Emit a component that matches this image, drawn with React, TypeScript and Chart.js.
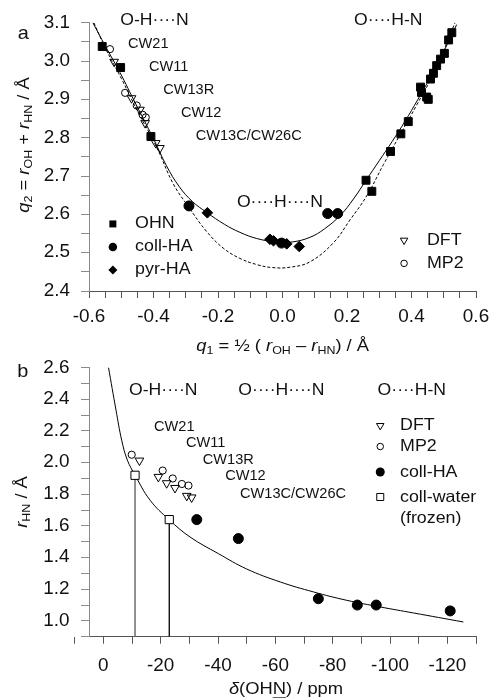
import React, { useEffect, useRef } from 'react';
import { Chart, registerables } from 'chart.js';

Chart.register(...registerables);

const FAMILY = '"Liberation Sans", Arial, Helvetica, sans-serif';
const SX = 1.08;
const INK = '#111';

// ---------------- Panel a data ----------------
const aXMin = -0.6, aXMax = 0.6, aXStep = 0.05;
const aYMin = 2.4, aYMax = 3.1, aYStep = 0.05;
const aXTickVals = [-0.6, -0.4, -0.2, 0, 0.2, 0.4, 0.6];
const aXTickLabels = ['-0.6', '-0.4', '-0.2', '0.0', '0.2', '0.4', '0.6'];
const aYTickVals = [2.4, 2.5, 2.6, 2.7, 2.8, 2.9, 3.0, 3.1];
const aYTickLabels = ['2.4', '2.5', '2.6', '2.7', '2.8', '2.9', '3.0', '3.1'];

const ohnQ1 = [-0.559, -0.502, -0.408, 0.259, 0.277, 0.335, 0.367, 0.390, 0.428, 0.431, 0.447, 0.452, 0.459, 0.468, 0.478, 0.490, 0.502, 0.515, 0.525];
const ohnQ2 = [3.038, 2.983, 2.803, 2.689, 2.660, 2.764, 2.810, 2.842, 2.932, 2.918, 2.906, 2.900, 2.953, 2.968, 2.988, 3.005, 3.020, 3.055, 3.074];
const collAQ1 = [-0.290, 0.140, 0.171, -0.003];
const collAQ2 = [2.622, 2.602, 2.602, 2.525];
const pyrQ1 = [-0.233, -0.039, -0.028, 0.013, 0.052];
const pyrQ2 = [2.604, 2.535, 2.531, 2.523, 2.516];
const dftAQ1 = [-0.522, -0.468, -0.442, -0.426, -0.393, -0.380];
const dftAQ2 = [2.998, 2.903, 2.873, 2.838, 2.786, 2.773];
const mp2AQ1 = [-0.535, -0.488, -0.452, -0.434, -0.424];
const mp2AQ2 = [3.031, 2.917, 2.884, 2.860, 2.853];

const fitQ1 = [-0.588, -0.55, -0.504, -0.455, -0.401, -0.36, -0.32, -0.28, -0.235, -0.18, -0.132, -0.08, -0.02, 0.03, 0.085, 0.13, 0.18, 0.22, 0.26, 0.30, 0.34, 0.38, 0.42, 0.46, 0.50, 0.54];
const fitQ2 = [3.10, 3.04, 2.97, 2.888, 2.799, 2.727, 2.672, 2.634, 2.605, 2.574, 2.553, 2.537, 2.528, 2.528, 2.540, 2.562, 2.598, 2.640, 2.690, 2.740, 2.790, 2.843, 2.900, 2.960, 3.025, 3.095];
const eqQ1 = [-0.585, -0.55, -0.50, -0.45, -0.39, -0.339, -0.29, -0.235, -0.184, -0.132, -0.08, -0.03, 0.023, 0.085, 0.158, 0.209, 0.261, 0.313, 0.364, 0.416, 0.47, 0.535];
const eqQ2 = [3.10, 3.035, 2.955, 2.87, 2.775, 2.68, 2.618, 2.555, 2.512, 2.485, 2.469, 2.461, 2.462, 2.476, 2.526, 2.585, 2.648, 2.73, 2.807, 2.885, 2.97, 3.10];

// ---------------- Panel b data ----------------
const bXMin = -130, bXMax = 5, bXStep = 10;
const bYMin = 0.9, bYMax = 2.6, bYStep = 0.1;
const bXTickVals = [0, -20, -40, -60, -80, -100, -120];
const bXTickLabels = ['0', '-20', '-40', '-60', '-80', '-100', '-120'];
const bYTickVals = [1.0, 1.2, 1.4, 1.6, 1.8, 2.0, 2.2, 2.4, 2.6];
const bYTickLabels = ['1.0', '1.2', '1.4', '1.6', '1.8', '2.0', '2.2', '2.4', '2.6'];

const dftBD = [-12.6, -19.2, -22.1, -25.0, -29.1, -30.8];
const dftBR = [2.013, 1.91, 1.87, 1.84, 1.79, 1.78];
const mp2BD = [-9.9, -20.7, -24.2, -27.4, -29.7];
const mp2BR = [2.05, 1.95, 1.90, 1.865, 1.855];
const collBD = [-32.6, -47.1, -75.0, -88.6, -95.2, -121.0];
const collBR = [1.64, 1.52, 1.14, 1.10, 1.10, 1.063];
const waterD = [-11.06, -23.0];
const waterR = [1.92, 1.64];
const curveD = [-1.75, -4.42, -6.40, -8.38, -11.06, -16.29, -22.92, -30.25, -40.14, -50.0, -61.7, -73.3, -84.9, -96.6, -108.2, -125.6];
const curveR = [2.607, 2.332, 2.142, 2.016, 1.921, 1.763, 1.640, 1.530, 1.425, 1.328, 1.246, 1.183, 1.130, 1.088, 1.05, 0.993];

// ---------------- helpers ----------------
type Seg = { t: string; i?: boolean; sub?: boolean; u?: boolean };
type Txt = { t: string; x: number; y: number; size: number; align: CanvasTextAlign; sx?: number };
type LegRow = { shape: string; filled: boolean; size: number; text: string; y: number };
type Spec = {
  texts: Txt[];
  legends: { mx: number; tx: number; rows: LegRow[] }[];
  xTicks: number[]; xLabels: string[]; yTicks: number[]; yLabels: string[];
  xLabelDy: number; yLabelDx: number;
  xTitle: Seg[]; xTitleDx: number; xTitleDy: number;
  yTitle: Seg[]; yTitleDx: number; yTitleDy: number;
};

const fnt = (size: number, italic = false) => `${italic ? 'italic ' : ''}${size}px ${FAMILY}`;

function range(min: number, max: number, step: number) {
  const out: number[] = [];
  const n = Math.round((max - min) / step);
  for (let k = 0; k <= n; k++) out.push(+(min + k * step).toFixed(6));
  return out;
}

const pts = (xs: number[], ys: number[]) => xs.map((x, i) => ({ x, y: ys[i] }));

function drawText(ctx: CanvasRenderingContext2D, t: string, x: number, y: number, size: number, align: CanvasTextAlign, sx = SX) {
  ctx.save();
  ctx.translate(x, y);
  ctx.scale(sx, 1);
  ctx.font = fnt(size);
  ctx.fillStyle = INK;
  ctx.textAlign = align;
  ctx.textBaseline = 'middle';
  ctx.fillText(t, 0, 0);
  ctx.restore();
}

function drawRich(ctx: CanvasRenderingContext2D, segs: Seg[], x: number, y: number, size: number, rot: number) {
  ctx.save();
  ctx.translate(x, y);
  if (rot) ctx.rotate(rot);
  ctx.scale(SX, 1);
  ctx.fillStyle = INK;
  ctx.textBaseline = 'middle';
  ctx.textAlign = 'left';
  const sub = size * 0.68;
  const widths = segs.map((s) => {
    ctx.font = fnt(s.sub ? sub : size, !!s.i);
    return ctx.measureText(s.t).width;
  });
  const total = widths.reduce((a, b) => a + b, 0);
  let cx = -total / 2;
  segs.forEach((s, k) => {
    ctx.font = fnt(s.sub ? sub : size, !!s.i);
    ctx.fillText(s.t, cx, s.sub ? size * 0.3 : 0);
    if (s.u) ctx.fillRect(cx, size * 0.45, widths[k], 1.2);
    cx += widths[k];
  });
  ctx.restore();
}

function drawShape(ctx: CanvasRenderingContext2D, shape: string, x: number, y: number, s: number, filled: boolean) {
  ctx.save();
  ctx.beginPath();
  const h = s / 2;
  if (shape === 'square') ctx.rect(x - h, y - h, s, s);
  else if (shape === 'circle') ctx.arc(x, y, h, 0, Math.PI * 2);
  else if (shape === 'diamond') {
    ctx.moveTo(x, y - h); ctx.lineTo(x + h, y); ctx.lineTo(x, y + h); ctx.lineTo(x - h, y); ctx.closePath();
  } else if (shape === 'triDown') {
    ctx.moveTo(x - h, y - s * 0.3); ctx.lineTo(x + h, y - s * 0.3); ctx.lineTo(x, y + s * 0.55); ctx.closePath();
  }
  if (filled) {
    ctx.fillStyle = '#000';
    ctx.fill();
  } else {
    ctx.fillStyle = '#fff';
    ctx.fill();
    ctx.strokeStyle = '#000';
    ctx.lineWidth = 1;
    ctx.stroke();
  }
  ctx.restore();
}

function makePlugin(spec: Spec) {
  return {
    id: 'decor',
    afterDraw(chart: any) {
      const ctx: CanvasRenderingContext2D = chart.ctx;
      const xs = chart.scales.x;
      const ys = chart.scales.y;
      const area = chart.chartArea;
      spec.xTicks.forEach((v, k) => drawText(ctx, spec.xLabels[k], xs.getPixelForValue(v), area.bottom + spec.xLabelDy, 17.5, 'center'));
      spec.yTicks.forEach((v, k) => drawText(ctx, spec.yLabels[k], area.left - spec.yLabelDx, ys.getPixelForValue(v), 17.5, 'right'));
      drawRich(ctx, spec.xTitle, (area.left + area.right) / 2 + spec.xTitleDx, area.bottom + spec.xTitleDy, 17, 0);
      drawRich(ctx, spec.yTitle, area.left - spec.yTitleDx, area.top + spec.yTitleDy, 17, -Math.PI / 2);
      spec.texts.forEach((t) => drawText(ctx, t.t, xs.getPixelForValue(t.x), ys.getPixelForValue(t.y), t.size, t.align, t.sx ?? SX));
      spec.legends.forEach((lg) => {
        lg.rows.forEach((r) => {
          const py = ys.getPixelForValue(r.y);
          drawShape(ctx, r.shape, xs.getPixelForValue(lg.mx), py, r.size, r.filled);
          drawText(ctx, r.text, xs.getPixelForValue(lg.tx), py, 16.5, 'left');
        });
      });
    },
  };
}

function axisOpts(min: number, max: number, step: number, tickLen: number, borderColor: string, fit: (s: any) => void, reverse = false) {
  const list = range(min, max, step);
  return {
    type: 'linear' as const,
    min, max, reverse,
    afterBuildTicks: (s: any) => { s.ticks = list.map((v) => ({ value: v })); },
    afterFit: fit,
    ticks: { display: false },
    grid: { display: true, drawOnChartArea: false, drawTicks: true, tickLength: tickLen, color: borderColor, lineWidth: 1 },
    border: { display: true, color: borderColor, width: 1 },
  };
}

const lineDs = (data: any[], color: string, width: number, dash: number[] = []) => ({
  data, showLine: true, pointRadius: 0, borderColor: color, borderWidth: width, borderDash: dash,
  fill: false, tension: 0.4, order: 5,
});

const markDs = (data: any[], style: string, radius: number, filled: boolean, rotation = 0, whiteFill = false) => ({
  data, showLine: false, pointStyle: style, pointRadius: radius, rotation,
  backgroundColor: filled ? '#000' : whiteFill ? '#fff' : 'rgba(0,0,0,0)',
  borderColor: '#000', borderWidth: 1, order: 1,
});

// ---------------- configs ----------------
const DOTS = '\u00B7\u00B7\u00B7\u00B7';

function configA(): any {
  const spec: Spec = {
    texts: [
      { t: `O-H${DOTS}N`, x: -0.397, y: 3.106, size: 16, align: 'center', sx: 1.1 },
      { t: `O${DOTS}H-N`, x: 0.328, y: 3.106, size: 16, align: 'center', sx: 1.1 },
      { t: `O${DOTS}H${DOTS}N`, x: -0.008, y: 2.631, size: 16, align: 'center', sx: 1.1 },
      { t: 'CW21', x: -0.479, y: 3.044, size: 14, align: 'left', sx: 1.04 },
      { t: 'CW11', x: -0.414, y: 2.983, size: 14, align: 'left', sx: 1.04 },
      { t: 'CW13R', x: -0.370, y: 2.924, size: 14, align: 'left', sx: 1.04 },
      { t: 'CW12', x: -0.315, y: 2.864, size: 14, align: 'left', sx: 1.04 },
      { t: 'CW13C/CW26C', x: -0.269, y: 2.803, size: 14, align: 'left', sx: 1.04 },
      { t: 'a', x: -0.804, y: 3.072, size: 19, align: 'center', sx: 1.05 },
    ],
    legends: [
      { mx: -0.526, tx: -0.457, rows: [
        { shape: 'square', filled: true, size: 7, text: 'OHN', y: 2.575 },
        { shape: 'circle', filled: true, size: 8.5, text: 'coll-HA', y: 2.515 },
        { shape: 'diamond', filled: true, size: 9, text: 'pyr-HA', y: 2.455 },
      ] },
      { mx: 0.377, tx: 0.448, rows: [
        { shape: 'triDown', filled: false, size: 7.5, text: 'DFT', y: 2.532 },
        { shape: 'circle', filled: false, size: 6.5, text: 'MP2', y: 2.472 },
      ] },
    ],
    xTicks: aXTickVals, xLabels: aXTickLabels, yTicks: aYTickVals, yLabels: aYTickLabels,
    xLabelDy: 25.7, yLabelDx: 19,
    xTitle: [{ t: 'q', i: true }, { t: '1', sub: true }, { t: ' = \u00BD ( ' }, { t: 'r', i: true }, { t: 'OH', sub: true }, { t: ' \u2013 ' }, { t: 'r', i: true }, { t: 'HN', sub: true }, { t: ') / \u00C5' }],
    xTitleDx: 0.2, xTitleDy: 55,
    yTitle: [{ t: 'q', i: true }, { t: '2', sub: true }, { t: ' = ' }, { t: 'r', i: true }, { t: 'OH', sub: true }, { t: ' + ' }, { t: 'r', i: true }, { t: 'HN', sub: true }, { t: ' / \u00C5' }],
    yTitleDx: 65, yTitleDy: 122.3,
  };
  return {
    type: 'scatter',
    data: {
      datasets: [
        lineDs(pts(fitQ1, fitQ2), '#000', 1),
        lineDs(pts(eqQ1, eqQ2), '#000', 1, [3, 2]),
        markDs(pts(mp2AQ1, mp2AQ2), 'circle', 3.6, false),
        markDs(pts(dftAQ1, dftAQ2), 'triangle', 5, false, 180),
        markDs(pts(ohnQ1, ohnQ2), 'rect', 5.6, true),
        markDs(pts(collAQ1, collAQ2), 'circle', 5, true),
        markDs(pts(pyrQ1, pyrQ2), 'rectRot', 5.3, true),
      ],
    },
    options: {
      animation: false, responsive: false, maintainAspectRatio: false, events: [],
      layout: { padding: { top: 22.7, right: 14, left: 0, bottom: 0 } },
      plugins: { legend: { display: false }, tooltip: { enabled: false } },
      scales: {
        x: axisOpts(aXMin, aXMax, aXStep, 7, '#555', (s: any) => { s.height = 71; }),
        y: axisOpts(aYMin, aYMax, aYStep, 8, '#8a8a8a', (s: any) => { s.width = 89; }),
      },
    },
    plugins: [makePlugin(spec)],
  };
}

function configB(): any {
  const spec: Spec = {
    texts: [
      { t: `O-H${DOTS}N`, x: -20.9, y: 2.454, size: 16, align: 'center', sx: 1.1 },
      { t: `O${DOTS}H${DOTS}N`, x: -62.1, y: 2.454, size: 16, align: 'center', sx: 1.1 },
      { t: `O${DOTS}H-N`, x: -107.6, y: 2.454, size: 16, align: 'center', sx: 1.1 },
      { t: 'CW21', x: -17.7, y: 2.227, size: 14, align: 'left', sx: 1.04 },
      { t: 'CW11', x: -28.8, y: 2.122, size: 14, align: 'left', sx: 1.04 },
      { t: 'CW13R', x: -34.7, y: 2.017, size: 14, align: 'left', sx: 1.04 },
      { t: 'CW12', x: -42.5, y: 1.917, size: 14, align: 'left', sx: 1.04 },
      { t: 'CW13C/CW26C', x: -47.7, y: 1.80, size: 14, align: 'left', sx: 1.04 },
      { t: 'b', x: 28.1, y: 2.575, size: 19, align: 'center', sx: 1.05 },
      { t: '(frozen)', x: -103.5, y: 1.647, size: 16.5, align: 'left' },
    ],
    legends: [
      { mx: -96.6, tx: -103.5, rows: [
        { shape: 'triDown', filled: false, size: 7.5, text: 'DFT', y: 2.233 },
        { shape: 'circle', filled: false, size: 6.5, text: 'MP2', y: 2.102 },
        { shape: 'circle', filled: true, size: 9, text: 'coll-HA', y: 1.941 },
        { shape: 'square', filled: false, size: 7, text: 'coll-water', y: 1.783 },
      ] },
    ],
    xTicks: bXTickVals, xLabels: bXTickLabels, yTicks: bYTickVals, yLabels: bYTickLabels,
    xLabelDy: 29, yLabelDx: 19.5,
    xTitle: [{ t: '\u03B4', i: true }, { t: '(OH' }, { t: 'N', u: true }, { t: ') / ppm' }],
    xTitleDx: 3.5, xTitleDy: 53,
    yTitle: [{ t: 'r', i: true }, { t: 'HN', sub: true }, { t: ' / \u00C5' }],
    yTitleDx: 67, yTitleDy: 134.3,
  };
  return {
    type: 'scatter',
    data: {
      datasets: [
        lineDs(pts(curveD, curveR), '#000', 1),
        lineDs(pts([waterD[0], waterD[0]], [bYMin, waterR[0]]), '#6e6e6e', 1.5),
        lineDs(pts([waterD[1], waterD[1]], [bYMin, waterR[1]]), '#000', 1.3),
        markDs(pts(mp2BD, mp2BR), 'circle', 3.6, false),
        markDs(pts(dftBD, dftBR), 'triangle', 5, false, 180),
        markDs(pts(collBD, collBR), 'circle', 5, true),
        markDs(pts(waterD, waterR), 'rect', 5.8, false, 0, true),
      ],
    },
    options: {
      animation: false, responsive: false, maintainAspectRatio: false, events: [],
      layout: { padding: { top: 19.7, right: 14, left: 0, bottom: 0 } },
      plugins: { legend: { display: false }, tooltip: { enabled: false } },
      scales: {
        x: axisOpts(bXMin, bXMax, bXStep, 7, '#555', (s: any) => { s.height = 61.3; }, true),
        y: axisOpts(bYMin, bYMax, bYStep, 8, '#8a8a8a', (s: any) => { s.width = 89; }),
      },
    },
    plugins: [makePlugin(spec)],
  };
}

export default function App() {
  const refA = useRef<HTMLCanvasElement>(null);
  const refB = useRef<HTMLCanvasElement>(null);
  useEffect(() => {
    const a = new Chart(refA.current as HTMLCanvasElement, configA());
    const b = new Chart(refB.current as HTMLCanvasElement, configB());
    return () => { a.destroy(); b.destroy(); };
  }, []);
  return (
    <div style={{ position: 'fixed', left: 0, top: 0, width: 490, height: 698, background: '#fff', overflow: 'hidden' }}>
      <canvas ref={refA} width={490} height={362} style={{ position: 'absolute', left: 0, top: 0, width: 490, height: 362 }} />
      <canvas ref={refB} width={490} height={350} style={{ position: 'absolute', left: 0, top: 348, width: 490, height: 350 }} />
    </div>
  );
}
